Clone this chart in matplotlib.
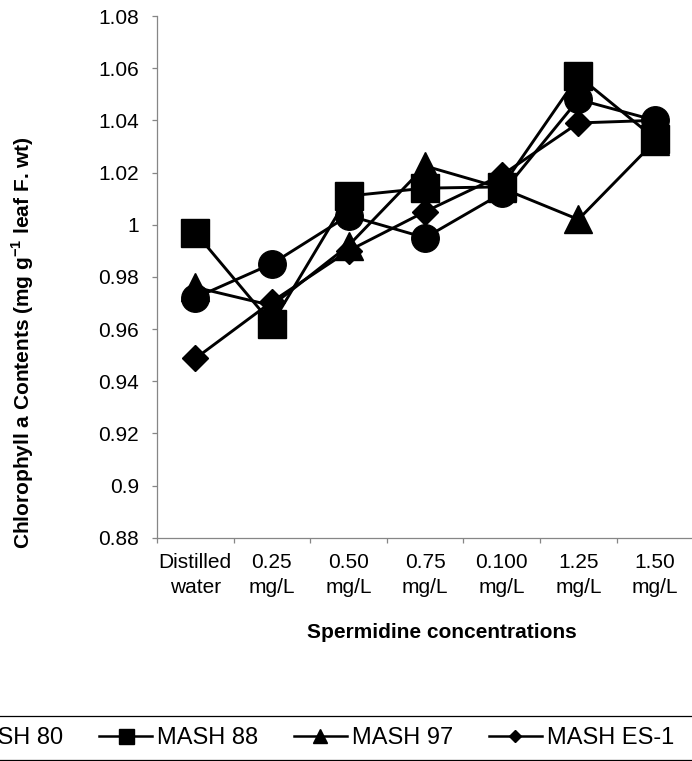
import matplotlib
matplotlib.use("Agg")
import matplotlib.pyplot as plt
from matplotlib.lines import Line2D
from matplotlib.ticker import FixedLocator, FuncFormatter
import numpy as np

plt.rcParams['font.family'] = ['Liberation Sans', 'DejaVu Sans']
plt.rcParams['mathtext.fontset'] = 'custom'
plt.rcParams['mathtext.rm'] = 'Liberation Sans'
plt.rcParams['mathtext.bf'] = 'Liberation Sans:bold'

categories = ['Distilled\nwater', '0.25\nmg/L', '0.50\nmg/L', '0.75\nmg/L',
              '0.100\nmg/L', '1.25\nmg/L', '1.50\nmg/L']
series_names = ['MASH 80', 'MASH 88', 'MASH 97', 'MASH ES-1']
mash80 = [0.972, 0.985, 1.0035, 0.995, 1.012, 1.048, 1.040]
mash88 = [0.997, 0.962, 1.011, 1.014, 1.0145, 1.057, 1.033]
mash97 = [0.976, 0.969, 0.992, 1.0225, 1.014, 1.002, 1.032]
mashES1 = [0.9487, 0.9705, 0.990, 1.005, 1.019, 1.039, 1.040]
yticks = [0.88, 0.90, 0.92, 0.94, 0.96, 0.98, 1.00, 1.02, 1.04, 1.06, 1.08]

W, H = 692, 761
fig = plt.figure(figsize=(W / 100, H / 100), dpi=100)
ax = fig.add_axes([157 / W, 1 - 537.7 / H, (693.3 - 157) / W, (537.7 - 16) / H])

x = np.arange(len(categories))
styles = [('o', 19.8), ('s', 19.5), ('^', 19.5), ('D', 13.3)]
all_series = [mash80, mash88, mash97, mashES1]
for vals, (m, ms) in zip(all_series, styles):
    ax.plot(x, vals, color='black', lw=2.1, marker=m, markersize=ms,
            markerfacecolor='black', markeredgecolor='black', clip_on=False)

ax.set_xlim(-0.5, len(categories) - 0.5)
ax.set_ylim(yticks[0], yticks[-1])

for s in ['top', 'right']:
    ax.spines[s].set_visible(False)
for s in ['left', 'bottom']:
    ax.spines[s].set_color('#868686')
    ax.spines[s].set_linewidth(0.9)

ax.yaxis.set_major_locator(FixedLocator(yticks))
ax.yaxis.set_major_formatter(FuncFormatter(lambda v, p: f"{round(v, 2):g}"))
ax.tick_params(axis='y', direction='out', length=3.8, width=0.9, color='#868686',
               labelsize=15, pad=9, labelcolor='black')

ax.set_xticks(x)
ax.set_xticklabels(categories)
ax.set_xticks(np.arange(len(categories) + 1) - 0.5, minor=True)
ax.tick_params(axis='x', which='major', length=0, labelsize=15, pad=11,
               labelcolor='black')
ax.tick_params(axis='x', which='minor', direction='out', length=3.8, width=0.9,
               color='#868686')
for lbl in ax.get_xticklabels():
    lbl.set_linespacing(1.4)

fig.text(23 / W, 1 - 343 / H, r'Chlorophyll a Contents (mg g$^{\mathbf{-1}}$ leaf F. wt)',
         rotation=90, ha='center', va='center', fontsize=15, fontweight='bold')
fig.text(441.7 / W, 1 - 633 / H, 'Spermidine concentrations',
         ha='center', va='center', fontsize=15, fontweight='bold')

leg_styles = [('o', 9.5), ('s', 10.8), ('^', 9.5), ('D', 6.2)]
handles = [Line2D([], [], color='black', lw=1.8, marker=m, markersize=ms,
                  markerfacecolor='black', markeredgecolor='black')
           for m, ms in leg_styles]
fig.legend(handles, series_names, loc='center right',
           bbox_to_anchor=(674 / W, 1 - 738 / H), ncol=4, frameon=False,
           fontsize=17, handlelength=2.23, handletextpad=0.21,
           columnspacing=1.53, borderpad=0, borderaxespad=0)
for yy in (716, 759.5):
    fig.add_artist(Line2D([0, 1], [1 - yy / H, 1 - yy / H], transform=fig.transFigure,
                          color='black', lw=0.9))

fig.savefig('out.png', dpi=100)
